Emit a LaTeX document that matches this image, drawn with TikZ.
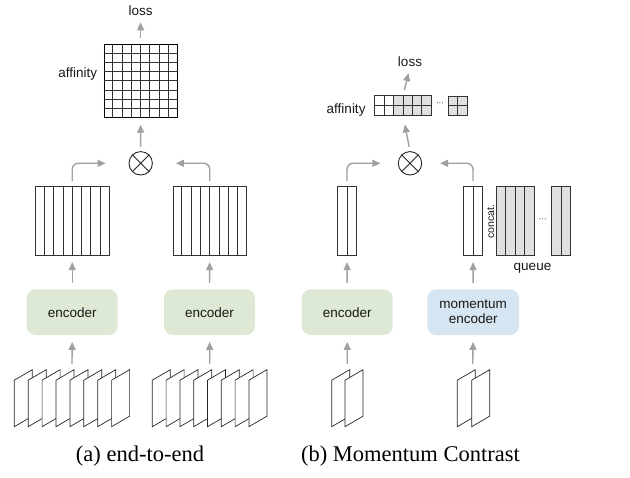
\documentclass[tikz,border=0pt]{standalone}
\usepackage{fontspec}
\setmainfont{Liberation Serif}
\newfontfamily\lsans{Liberation Sans}
\usetikzlibrary{arrows.meta,calc}
\definecolor{arr}{HTML}{A0A0A0}
\definecolor{encg}{HTML}{DDE9D4}
\definecolor{encb}{HTML}{D5E5F1}
\definecolor{qgray}{HTML}{E0E0E0}
\definecolor{edge}{HTML}{333333}
\newcommand\colgrid[3]{\foreach \i in {1,...,#3}{\draw[gridline] ($(#1.north west)!{\i/#2}!(#1.north east)$) -- ($(#1.south west)!{\i/#2}!(#1.south east)$);}}
\newcommand\rowgrid[3]{\foreach \i in {1,...,#3}{\draw[gridline] ($(#1.north west)!{\i/#2}!(#1.south west)$) -- ($(#1.north east)!{\i/#2}!(#1.south east)$);}}
\newcommand\imgstack[3]{% x0, spacing, count-1
  \foreach \k in {0,...,#3}{
    \pgfmathsetmacro\xx{#1+#2*\k}
    \filldraw[imgline] (\xx,426.7) -- (\xx,380.2) -- (\xx+18,369.7) -- (\xx+18,416.2) -- cycle;
  }}
\begin{document}
\begin{tikzpicture}[x=1pt,y=-1pt,
  arrowline/.style={draw=arr, line width=1.4pt, -{Triangle[length=8pt,width=7pt]}},
  gridline/.style={draw=edge, line width=0.8pt},
  imgline/.style={draw=black!85, fill=white, line width=0.7pt, line join=miter},
  blockbox/.style={draw=edge, line width=0.9pt, minimum height=69pt, inner sep=0pt},
  enc/.style={rounded corners=9pt, minimum width=91pt, minimum height=45.7pt, inner sep=0pt,
    font=\lsans\fontsize{13.5}{16}\selectfont, align=center, text=black!90},
  lbl/.style={font=\lsans\fontsize{13.5}{16}\selectfont, inner sep=0pt, text=black!90},
  captext/.style={font=\fontsize{22.5}{27}\selectfont, inner sep=0pt, anchor=base},
  otimes/.style={circle, draw=black!85, line width=0.9pt, minimum size=23.4pt, inner sep=0pt},
]
\useasboundingbox (0,0) rectangle (630,478);

% ---------------- (a) end-to-end ----------------
\node[lbl, anchor=base] (lossL) at (140.6,15.7) {loss};
\node[draw=black, line width=0.9pt, minimum width=73pt, minimum height=73pt, inner sep=0pt] (aff) at (140.6,80.8) {};
\colgrid{aff}{8}{7}
\rowgrid{aff}{8}{7}
\node[lbl, anchor=base east] (affL) at (97.3,77.5) {affinity};

\node[otimes] (otL) at (140.7,163.3) {};
\draw[black!85, line width=0.9pt] (otL.north west) -- (otL.south east) (otL.north east) -- (otL.south west);

\node[blockbox, minimum width=73.5pt] (colL1) at (72.2,220.5) {};
\colgrid{colL1}{8}{7}
\node[blockbox, minimum width=73.5pt] (colL2) at (209.7,220.5) {};
\colgrid{colL2}{8}{7}

\node[enc, fill=encg] (encL1) at (72.2,312.2) {encoder};
\node[enc, fill=encg] (encL2) at (209.5,312.2) {encoder};

\imgstack{14.3}{13.9}{7}
\imgstack{152.3}{13.8}{7}
\coordinate (imL1) at (72.0,364);
\coordinate (imL2) at (209.8,364);

\draw[arrowline, shorten <=6pt, shorten >=6.3pt] (aff.north) -- (lossL.south);
\draw[arrowline, shorten <=4.6pt, shorten >=7pt] (otL.north) -- (aff.south);
\draw[arrowline, rounded corners=6pt] ($(colL1.north)+(0,-4.5)$) |- ($(otL.west)+(-23,0)$);
\draw[arrowline, rounded corners=6pt] ($(colL2.north)+(0,-4.5)$) |- ($(otL.east)+(23,0)$);
\draw[arrowline, shorten <=6.3pt, shorten >=6.7pt] (encL1.north) -- (colL1.south);
\draw[arrowline, shorten <=6.3pt, shorten >=6.7pt] (encL2.north) -- (colL2.south);
\draw[arrowline, shorten >=6.7pt] (imL1) -- (encL1.south);
\draw[arrowline, shorten >=6.7pt] (imL2) -- (encL2.south);

\node[captext] (capA) at (140,461.7) {(a) end-to-end};

% ---------------- (b) Momentum Contrast ----------------
\node[lbl, anchor=base] (lossR) at (410,66.7) {loss};
\node[minimum width=56pt, minimum height=19pt, inner sep=0pt] (ar) at (403,105.5) {};
\fill[qgray] ($(ar.north west)!{2/6}!(ar.north east)$) rectangle (ar.south east);
\colgrid{ar}{6}{5}
\rowgrid{ar}{2}{1}
\draw[edge, line width=0.9pt] (ar.north west) rectangle (ar.south east);
\node[minimum width=19pt, minimum height=19pt, inner sep=0pt, fill=qgray, draw=edge, line width=0.9pt] (ar2) at (457.8,105.5) {};
\colgrid{ar2}{2}{1}
\rowgrid{ar2}{2}{1}
\node[font=\lsans\fontsize{8}{8}\selectfont, inner sep=0pt] (ardots) at (440,104.5) {···};
\node[lbl, anchor=base east] (affR) at (365.7,113.3) {affinity};

\node[otimes] (otR) at (410,163.3) {};
\draw[black!85, line width=0.9pt] (otR.north west) -- (otR.south east) (otR.north east) -- (otR.south west);

\node[blockbox, minimum width=19.4pt] (colq) at (347,220.5) {};
\colgrid{colq}{2}{1}
\node[blockbox, minimum width=19.4pt] (colk) at (473,220.5) {};
\colgrid{colk}{2}{1}
\node[lbl, rotate=90, font=\lsans\fontsize{10.5}{12}\selectfont] (concat) at (490.7,221.7) {concat.};
\node[blockbox, minimum width=37.3pt, fill=qgray] (qu1) at (515.3,220.5) {};
\colgrid{qu1}{4}{3}
\node[font=\lsans\fontsize{8}{8}\selectfont, inner sep=0pt] (qdots) at (542.7,220) {···};
\node[blockbox, minimum width=19pt, fill=qgray] (qu2) at (561.2,220.5) {};
\colgrid{qu2}{2}{1}
\node[lbl, anchor=base] (queue) at (532.5,270.7) {queue};

\node[enc, fill=encg] (encR1) at (347.2,312.2) {encoder};
\node[enc, fill=encb, minimum width=91.7pt] (encR2) at (473.2,312.2) {momentum\\[-1pt]encoder};

\imgstack{331.7}{13.3}{1}
\imgstack{457.3}{14.4}{1}
\coordinate (imR1) at (347.3,364);
\coordinate (imR2) at (472.7,364);

\draw[arrowline, shorten <=6pt, shorten >=6.3pt] (ar.north) -- (lossR.south);
\draw[arrowline, shorten <=4.6pt, shorten >=9.5pt] (otR.north) -- (ar.south);
\draw[arrowline, rounded corners=6pt] ($(colq.north)+(0,-4.5)$) |- ($(otR.west)+(-17.5,0)$);
\draw[arrowline, rounded corners=6pt] ($(colk.north)+(0,-4.5)$) |- ($(otR.east)+(18,0)$);
\draw[arrowline, shorten <=6.3pt, shorten >=6.7pt] (encR1.north) -- (colq.south);
\draw[arrowline, shorten <=6.3pt, shorten >=6.7pt] (encR2.north) -- (colk.south);
\draw[arrowline, shorten >=6.7pt] (imR1) -- (encR1.south);
\draw[arrowline, shorten >=6.7pt] (imR2) -- (encR2.south);

\node[captext] (capB) at (410.4,461.7) {(b) Momentum Contrast};
\end{tikzpicture}
\end{document}
